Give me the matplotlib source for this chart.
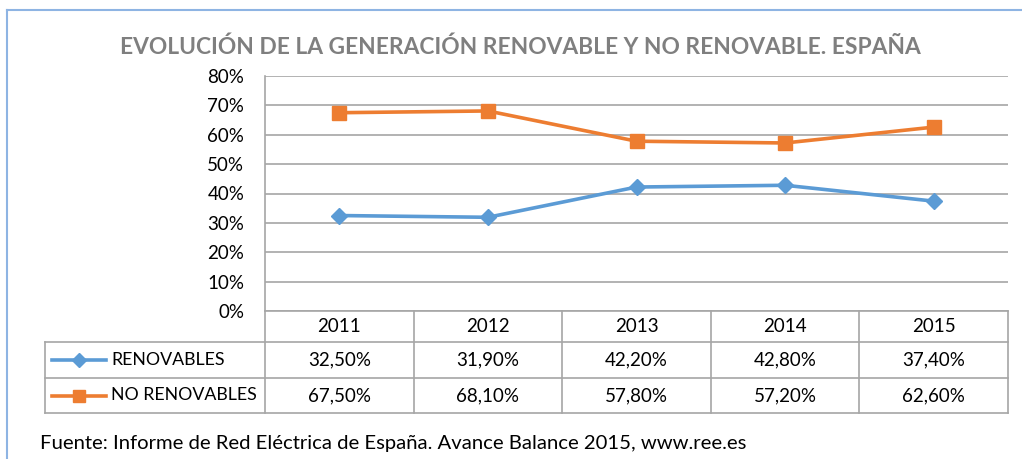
import matplotlib as mpl
mpl.use("Agg")
import matplotlib.pyplot as plt
import matplotlib.transforms as mtransforms
from matplotlib.lines import Line2D
import numpy as np

# data
years = ["2011", "2012", "2013", "2014", "2015"]
renovables = [32.5, 31.9, 42.2, 42.8, 37.4]
no_renovables = [67.5, 68.1, 57.8, 57.2, 62.6]
series_names = ["RENOVABLES", "NO RENOVABLES"]
title = "EVOLUCIÓN DE LA GENERACIÓN RENOVABLE Y NO RENOVABLE. ESPAÑA"
source = "Fuente: Informe de Red Eléctrica de España. Avance Balance 2015, www.ree.es"

W, H = 1022, 459
BLUE = "#5B9BD5"
ORANGE = "#ED7D31"
GRID = "#A6A6A6"
FONT = "Lato"

plt.rcParams["font.family"] = [FONT, "DejaVu Sans"]

fig = plt.figure(figsize=(W / 100, H / 100), dpi=100)
# pixel coords, origin top-left
pix = mtransforms.Affine2D().scale(1.0 / W, -1.0 / H).translate(0, 1) + fig.transFigure

left, right, top, bottom = 265, 1008, 76, 311
ax = fig.add_axes([left / W, 1 - bottom / H, (right - left) / W, (bottom - top) / H])
x = np.arange(len(years)) + 0.5
ax.set_xlim(0, len(years))
ax.set_ylim(0, 80)
ax.set_yticks(np.arange(0, 81, 10))
ax.set_yticklabels([f"{v}%" for v in range(0, 81, 10)], fontsize=13.5)
ax.tick_params(axis="y", length=0, pad=15)
ax.set_xticks([])
ax.grid(axis="y", color=GRID, lw=1.2)
ax.set_axisbelow(True)
for side in ["top", "right", "bottom"]:
    ax.spines[side].set_visible(False)
ax.spines["left"].set_color(GRID)
ax.spines["left"].set_linewidth(1.2)

ax.plot(x, renovables, color=BLUE, lw=2.6, marker="D", ms=8, mec=BLUE, mfc=BLUE, clip_on=False, zorder=3)
ax.plot(x, no_renovables, color=ORANGE, lw=2.6, marker="s", ms=10, mec=ORANGE, mfc=ORANGE, clip_on=False, zorder=3)

# data table below the plot
cell = mtransforms.blended_transform_factory(ax.transData, pix)
rows_y = [311, 342, 378, 413]
tbl_left = 45

def hline(x0, x1, y):
    fig.add_artist(Line2D([x0, x1], [y, y], transform=pix, color=GRID, lw=1.2))

hline(left, right, rows_y[0])
for y in rows_y[1:]:
    hline(tbl_left, right, y)
fig.add_artist(Line2D([tbl_left, tbl_left], [rows_y[1], rows_y[3]], transform=pix, color=GRID, lw=1.2))
for i in range(len(years) + 1):
    fig.add_artist(Line2D([i, i], [rows_y[0], rows_y[3]], transform=cell, color=GRID, lw=1.2))

for i, yr in enumerate(years):
    fig.text(x[i], (rows_y[0] + rows_y[1]) / 2, yr, transform=cell, ha="center", va="center", fontsize=13.5)
for r, (vals, name, col, mk, ms) in enumerate(zip([renovables, no_renovables], series_names,
                                                 [BLUE, ORANGE], ["D", "s"], [7, 9])):
    yc = (rows_y[r + 1] + rows_y[r + 2]) / 2
    for i, v in enumerate(vals):
        fig.text(x[i], yc, f"{v:.2f}%".replace(".", ","), transform=cell, ha="center", va="center", fontsize=13.5)
    fig.add_artist(Line2D([52, 106], [yc, yc], transform=pix, color=col, lw=2.6))
    fig.add_artist(Line2D([79], [yc], transform=pix, color=col, marker=mk, ms=ms, lw=0))
    fig.text(111, yc, name, transform=pix, ha="left", va="center", fontsize=12.8)

fig.text(520, 47, title, transform=pix, ha="center", va="center", fontsize=16.4,
         fontweight="bold", color="#7F7F7F")
fig.text(40, 443, source, transform=pix, ha="left", va="center", fontsize=14.6)

# chart frame (cropped at right and bottom)
fig.add_artist(Line2D([7, W], [10, 10], transform=pix, color="#8EB4E3", lw=1.5))
fig.add_artist(Line2D([7, 7], [10, H], transform=pix, color="#8EB4E3", lw=1.5))

fig.savefig("out.png", dpi=100)
